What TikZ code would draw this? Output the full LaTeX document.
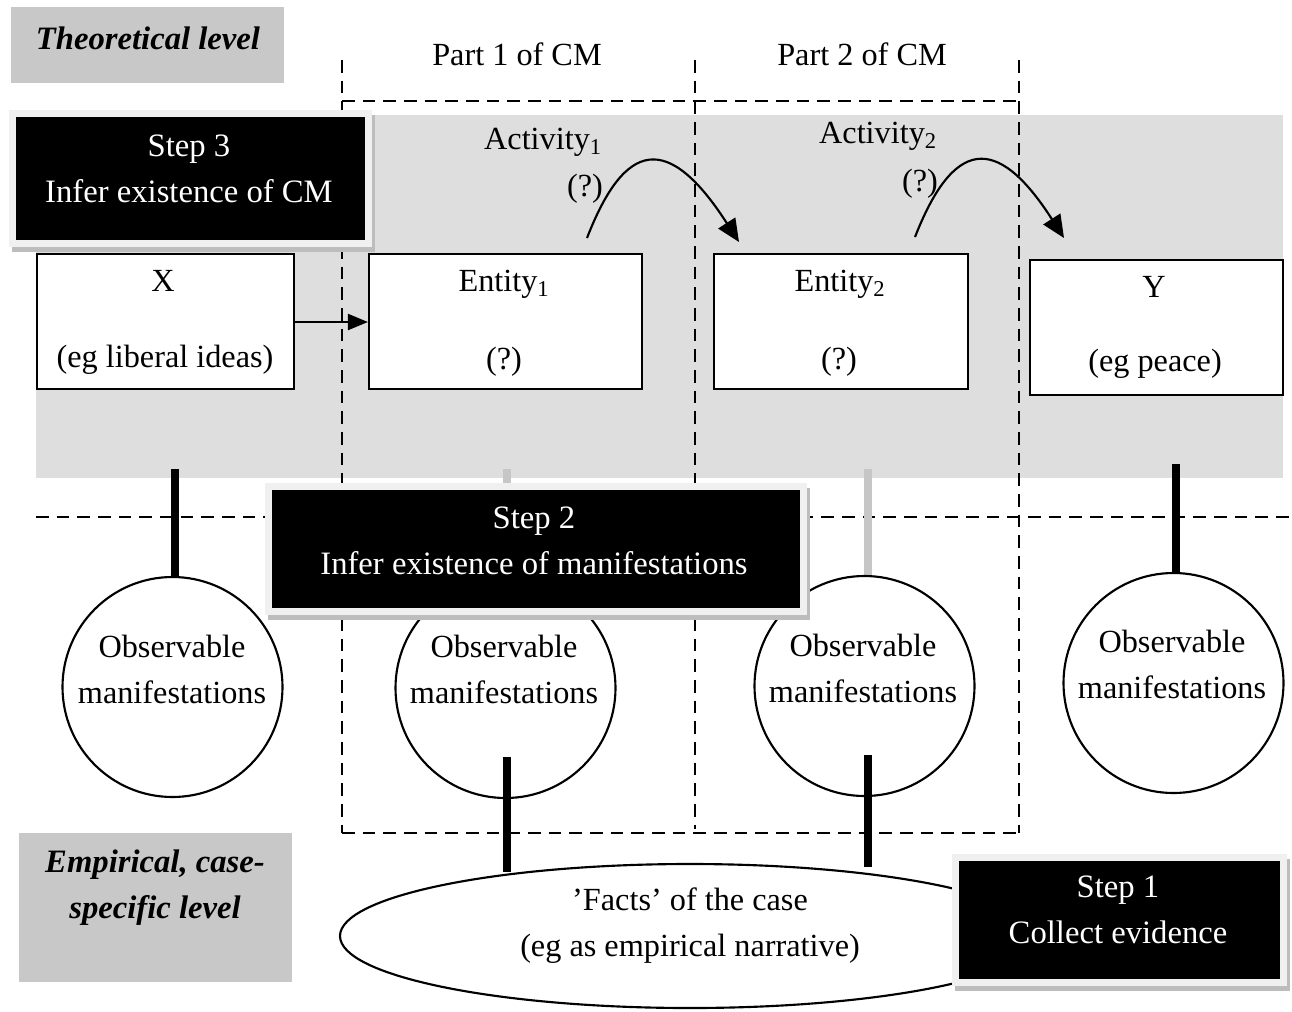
\documentclass[tikz,border=0pt]{standalone}
\usepackage{fontspec}
\setmainfont{Liberation Serif}
\usetikzlibrary{shapes.geometric,arrows.meta}
\definecolor{regiongray}{HTML}{DEDEDE}
\definecolor{levelgray}{HTML}{C8C8C8}
\definecolor{edgegray}{HTML}{F0F0F0}
\definecolor{shadowgray}{HTML}{BDBDBD}
\definecolor{linkgray}{HTML}{C6C6C6}
\tikzset{
  txt/.style={inner sep=0pt, font=\fontsize{24.2pt}{34.5pt}\selectfont, align=center},
  leveltxt/.style={inner sep=0pt, font=\fontsize{24.5pt}{34.5pt}\selectfont\bfseries\itshape, align=center},
  steptxt/.style={inner sep=0pt, text=white, font=\fontsize{24.5pt}{34.5pt}\selectfont, align=center},
  stepbox/.style={rectangle, inner sep=0pt, fill=black, draw=edgegray, line width=5.25pt,
     preaction={draw=shadowgray, fill=shadowgray, line width=5.25pt, transform canvas={shift={(2.5pt,-4pt)}}}},
  entbox/.style={rectangle, inner sep=0pt, fill=white, draw=black, line width=1.6pt, minimum height=101.25pt},
  obs/.style={circle, inner sep=0pt, fill=white, draw=black, line width=1.6pt, minimum size=165pt},
  factsbox/.style={ellipse, inner sep=0pt, minimum width=525pt, minimum height=108pt, fill=white, draw=black, line width=1.6pt},
  cmline/.style={dash pattern=on 9.5pt off 6pt, line width=1.9pt},
  thick link/.style={line width=6pt, black},
  gray link/.style={line width=6pt, linkgray},
}
\begin{document}
\begin{tikzpicture}[x=0.75pt,y=-0.75pt]
\useasboundingbox[fill=white] (0,0) rectangle (1292,1011);
% level labels
\fill[levelgray] (11,7) rectangle (284,83);
\node[leveltxt] (theo) at (148,38) {Theoretical level};
\fill[levelgray] (19,833) rectangle (292,982);
\node[leveltxt] (emp) at (155,888) {Empirical, case-\\specific level};
% theoretical region
\fill[regiongray] (36,115) rectangle (1283,478);
% CM parts dashed frame
\draw[cmline] (342,60) -- (342,833);
\draw[cmline] (695,60) -- (695,829);
\draw[cmline] (1019,60) -- (1019,833);
\draw[cmline] (342,101) -- (1019,101);
\draw[cmline] (342,833) -- (1019,833);
\draw[cmline] (36,517) -- (1290,517);
\node[txt] (p1) at (517,54) {Part 1 of CM};
\node[txt] (p2) at (862,54) {Part 2 of CM};
% boxes
\node[entbox, minimum width=192.75pt] (X) at (165.5,321.5) {};
\node[txt] (Xa) at (163,281) {X};
\node[txt] (Xb) at (165,360) {(eg liberal ideas)};
\node[entbox, minimum width=204.75pt] (E1) at (505.5,321.5) {};
\node[txt] (E1a) at (504,284) {Entity\textsubscript{1}};
\node[txt] (E1b) at (504,362) {(?)};
\node[entbox, minimum width=190.5pt] (E2) at (841,321.5) {};
\node[txt] (E2a) at (840,284) {Entity\textsubscript{2}};
\node[txt] (E2b) at (839,362) {(?)};
\node[entbox, minimum width=189.75pt] (Y) at (1156.5,327.5) {};
\node[txt] (Ya) at (1154,287) {Y};
\node[txt] (Yb) at (1155,364) {(eg peace)};
\draw[line width=1.6pt, -{Triangle[length=15pt,width=12pt]}] (X.east |- 0,322) -- (E1.west |- 0,322);
% activities
\node[txt] (A1) at (543,142) {Activity\textsubscript{1}};
\node[txt] (A2) at (878,136) {Activity\textsubscript{2}};
\node[txt] (q1) at (585,189) {(?)};
\node[txt] (q2) at (920,184) {(?)};
\coordinate (a1s) at (587,238);
\coordinate (a1e) at (739,242);
\coordinate (a2s) at (915,237);
\coordinate (a2e) at (1064,238);
\draw[line width=1.6pt, -{Triangle[length=17pt,width=15pt]}] (a1s) .. controls (625,140) and (668,132) .. (a1e);
\draw[line width=1.6pt, -{Triangle[length=17pt,width=15pt]}] (a2s) .. controls (953,140) and (996,132) .. (a2e);
% observable manifestations: links then circles
\coordinate (l1) at (175,469);
\coordinate (l2) at (507,469);
\coordinate (l3) at (868,469);
\coordinate (l4) at (1176,464);
\coordinate (t1) at (175,577);
\coordinate (t2) at (507,578);
\coordinate (t3) at (868,576);
\coordinate (t4) at (1176,573);
\draw[thick link] (l1) -- (t1);
\draw[gray link] (l2) -- (t2);
\draw[gray link] (l3) -- (t3);
\draw[thick link] (l4) -- (t4);
\node[obs] (c1) at (172.5,687) {};
\node[obs] (c2) at (505.5,688) {};
\node[obs] (c3) at (864.5,686) {};
\node[obs] (c4) at (1173.5,683) {};
\node[txt] (o1) at (172,669) {Observable\\manifestations};
\node[txt] (o2) at (504,669) {Observable\\manifestations};
\node[txt] (o3) at (863,668) {Observable\\manifestations};
\node[txt] (o4) at (1172,664) {Observable\\manifestations};
% facts
\coordinate (b2) at (507,757);
\coordinate (b3) at (868,755);
\coordinate (e2) at (507,872);
\coordinate (e3) at (868,867);
\draw[thick link] (b2) -- (e2);
\draw[thick link] (b3) -- (e3);
\node[factsbox] (facts) at (690,936) {};
\node[txt] (ft) at (690,926) {’Facts’ of the case\\(eg as empirical narrative)};
% step boxes
\node[stepbox, minimum width=267pt, minimum height=97.5pt] (s3) at (190.5,178.5) {};
\node[steptxt] (s3t) at (189,169) {Step 3\\Infer existence of CM};
\node[stepbox, minimum width=401.25pt, minimum height=93.75pt] (s2) at (536,549) {};
\node[steptxt] (s2t) at (534,541) {Step 2\\Infer existence of manifestations};
\node[stepbox, minimum width=246pt, minimum height=93.75pt] (s1) at (1119.5,920) {};
\node[steptxt] (s1t) at (1118,910) {Step 1\\Collect evidence};
\end{tikzpicture}
\end{document}
